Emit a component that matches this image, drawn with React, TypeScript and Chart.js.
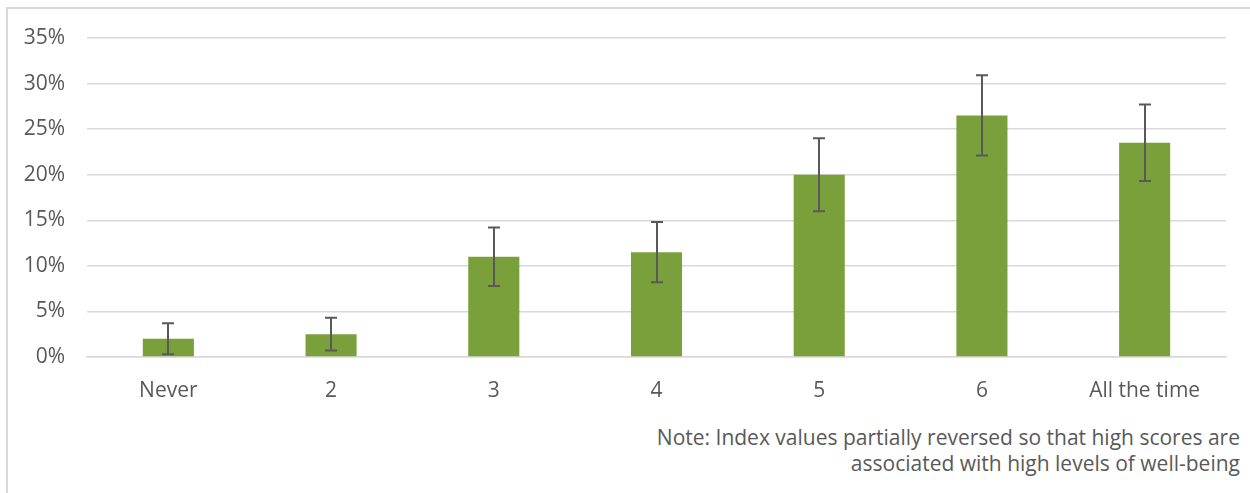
import React, { useEffect, useRef } from "react";
import { Chart, registerables } from "chart.js";

Chart.register(...registerables);

const categories = ["Never", "2", "3", "4", "5", "6", "All the time"];
const values = [2.0, 2.5, 11.0, 11.5, 20.0, 26.5, 23.5];
const errLow = [0.3, 0.7, 7.8, 8.2, 16.0, 22.1, 19.3];
const errHigh = [3.7, 4.3, 14.2, 14.8, 24.0, 30.9, 27.7];
const yTicks = [0, 5, 10, 15, 20, 25, 30, 35];
const noteLines = [
  "Note: Index values partially reversed so that high scores are",
  "associated with high levels of well-being",
];

const FONT = "'Open Sans', 'DejaVu Sans', sans-serif";
const TEXT = "#595959";

const errorBarPlugin = {
  id: "errorBars",
  afterDatasetsDraw(chart: any) {
    const { ctx } = chart;
    const meta = chart.getDatasetMeta(0);
    const y = chart.scales.y;
    ctx.save();
    ctx.strokeStyle = "#595959";
    ctx.lineWidth = 2;
    meta.data.forEach((bar: any, i: number) => {
      const x = Math.round(bar.x);
      const yl = y.getPixelForValue(errLow[i]);
      const yh = y.getPixelForValue(errHigh[i]);
      const cap = 6;
      ctx.beginPath();
      ctx.moveTo(x, yl);
      ctx.lineTo(x, yh);
      ctx.moveTo(x - cap, yl);
      ctx.lineTo(x + cap, yl);
      ctx.moveTo(x - cap, yh);
      ctx.lineTo(x + cap, yh);
      ctx.stroke();
    });
    ctx.restore();
  },
};

export default function App() {
  const ref = useRef<HTMLCanvasElement>(null);
  useEffect(() => {
    if (!ref.current) return;
    const chart = new Chart(ref.current, {
      type: "bar",
      data: {
        labels: categories,
        datasets: [
          {
            data: values,
            backgroundColor: "#7AA03C",
            borderWidth: 0,
            categoryPercentage: 1,
            barPercentage: 0.314,
          },
        ],
      },
      options: {
        animation: false,
        responsive: false,
        maintainAspectRatio: false,
        devicePixelRatio: 1,
        layout: { padding: { top: 38, right: 24, left: 1, bottom: 0 } },
        plugins: { legend: { display: false }, tooltip: { enabled: false } },
        scales: {
          x: {
            grid: { display: false, drawTicks: false },
            border: { color: "#D9D9D9", width: 1.5 },
            ticks: {
              color: TEXT,
              font: { family: FONT, size: 21 },
              padding: 21,
              maxRotation: 0,
            },
            afterFit: (s: any) => {
              s.height = 420 - 357;
            },
          },
          y: {
            min: 0,
            max: 35,
            afterBuildTicks: (s: any) => {
              s.ticks = yTicks.map((v) => ({ value: v }));
            },
            grid: { color: "#D9D9D9", lineWidth: 1.5, drawTicks: false },
            border: { display: false },
            ticks: {
              color: TEXT,
              font: { family: FONT, size: 21 },
              padding: 22,
              callback: (v: any) => `${v}%`,
            },
            afterFit: (s: any) => {
              s.width = 86;
            },
          },
        },
      },
      plugins: [errorBarPlugin],
    });
    return () => chart.destroy();
  }, []);

  return (
    <div
      style={{
        position: "absolute",
        left: 0,
        top: 0,
        width: 1250,
        height: 493,
        overflow: "hidden",
        background: "#fff",
      }}
    >
      <div
        style={{
          position: "absolute",
          left: 6,
          top: 7,
          width: 1300,
          height: 600,
          border: "2px solid #D9D9D9",
        }}
      />
      <canvas
        ref={ref}
        width={1250}
        height={420}
        style={{ position: "absolute", left: 0, top: 0, width: 1250, height: 420 }}
      />
      {noteLines.map((t, i) => (
        <div
          key={i}
          style={{
            position: "absolute",
            right: 10,
            top: 424 + i * 26,
            fontFamily: FONT,
            fontSize: 21,
            color: TEXT,
            whiteSpace: "nowrap",
            lineHeight: "26px",
          }}
        >
          {t}
        </div>
      ))}
    </div>
  );
}
